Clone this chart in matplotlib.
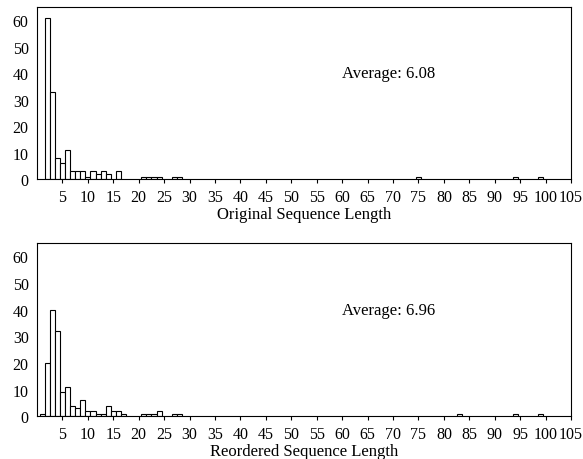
import matplotlib
matplotlib.use("Agg")
import matplotlib.pyplot as plt

plt.rcParams['font.family'] = ['Liberation Serif', 'DejaVu Serif']
plt.rcParams['font.size'] = 12

# sequence length -> count
orig_len = [2, 3, 4, 5, 6, 7, 8, 9, 10, 11, 12, 13, 14, 16, 21, 22, 23, 24, 27, 28, 75, 94, 99]
orig_cnt = [61, 33, 8, 6, 11, 3, 3, 3, 1, 3, 2, 3, 2, 3, 1, 1, 1, 1, 1, 1, 1, 1, 1]

reord_len = [1, 2, 3, 4, 5, 6, 7, 8, 9, 10, 11, 12, 13, 14, 15, 16, 17, 21, 22, 23, 24, 27, 28, 83, 94, 99]
reord_cnt = [1, 20, 40, 32, 9, 11, 4, 3, 6, 2, 2, 1, 1, 4, 2, 2, 1, 1, 1, 1, 2, 1, 1, 1, 1, 1]

xticks = list(range(5, 106, 5))
yticks = [0, 10, 20, 30, 40, 50, 60]

fig = plt.figure(figsize=(5.83, 4.60), dpi=100)
ax1 = fig.add_axes([0.0635, 0.608, 0.916, 0.3746])
ax2 = fig.add_axes([0.0635, 0.0928, 0.916, 0.3767])

panels = [(ax1, orig_len, orig_cnt, "Original Sequence Length", "Average: 6.08"),
          (ax2, reord_len, reord_cnt, "Reordered Sequence Length", "Average: 6.96")]

for ax, xs, ys, lab, avg in panels:
    ax.bar(xs, ys, width=1.0, color="white", edgecolor="black", linewidth=0.8)
    ax.set_xlim(0, 105)
    ax.set_ylim(0, 65)
    ax.set_xticks(xticks)
    ax.set_yticks(yticks)
    ax.tick_params(axis='y', length=0, pad=6, labelsize=11.5)
    ax.tick_params(axis='x', length=3, direction='out', pad=4, labelsize=11.5)
    ax.set_xlabel(lab, labelpad=1)
    ax.text(60, 40, avg, ha="left", va="center")
    for s in ax.spines.values():
        s.set_linewidth(0.8)

fig.savefig("out.png", dpi=100)
